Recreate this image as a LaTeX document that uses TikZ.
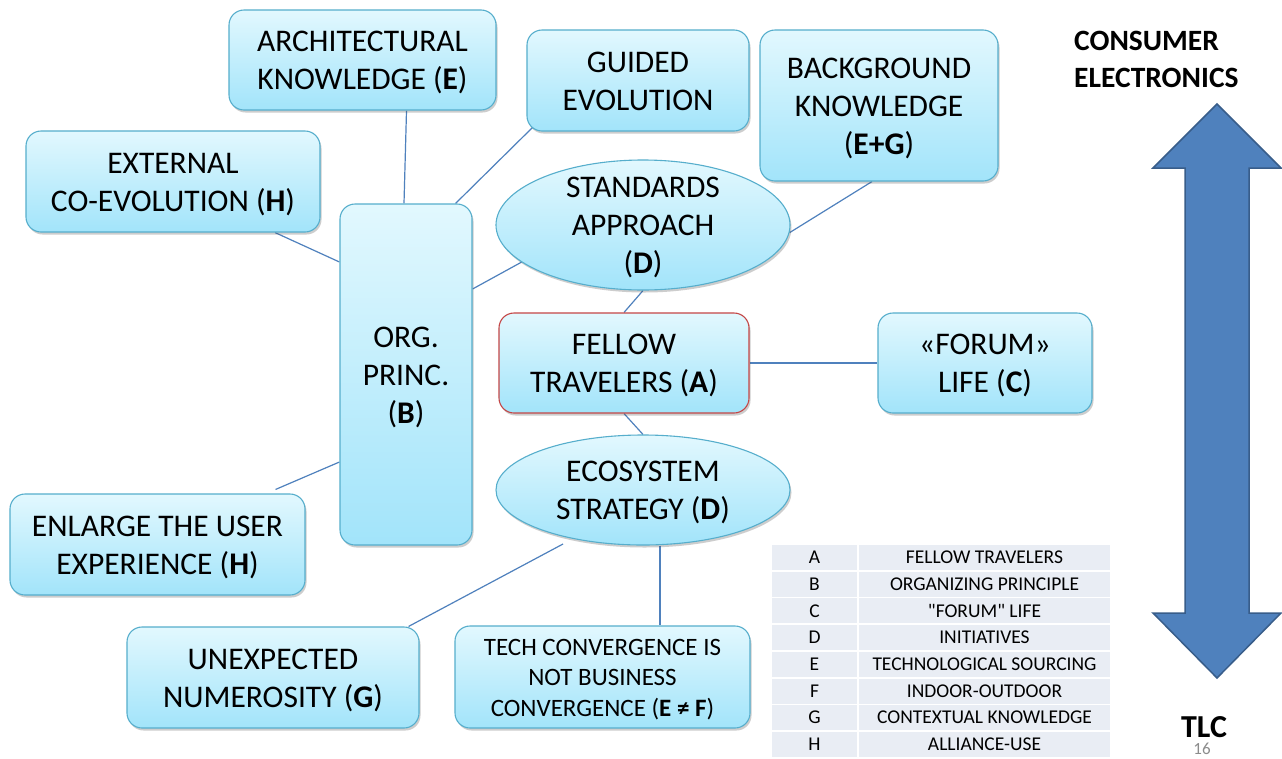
\documentclass[tikz,border=0pt]{standalone}
\usepackage{fontspec}
\setmainfont{Carlito}
\newfontfamily\rawfont{Carlito}
\usetikzlibrary{shapes.geometric,shadows,backgrounds}

\definecolor{boxtop}{RGB}{226,248,254}
\definecolor{boxbot}{RGB}{162,228,250}
\definecolor{boxline}{RGB}{86,174,204}
\definecolor{redline}{RGB}{196,70,70}
\definecolor{linkblue}{RGB}{79,129,189}
\definecolor{arrowfill}{RGB}{79,129,189}
\definecolor{arrowline}{RGB}{56,93,138}
\definecolor{cellfill}{RGB}{233,237,244}
\definecolor{pagenum}{RGB}{140,140,140}

% fixed line metrics, so every text block sits the same way in its box
\newcommand{\firstline}{\rule{0pt}{.94em}}
\newcommand{\lastline}{\rule[-.26em]{0pt}{.26em}}

\tikzset{
  bubble/.style={draw=boxline, line width=1.1pt, top color=boxtop, bottom color=boxbot,
    drop shadow={shadow xshift=1.5pt, shadow yshift=-2.5pt, opacity=.28, fill=black!70},
    align=center, inner sep=0pt, font=\fontsize{31.5}{38}\selectfont},
  card/.style={bubble, rounded corners=15pt},
  oval/.style={bubble, ellipse},
  linkline/.style={draw=linkblue, line width=1.2pt},
  cell/.style={fill=cellfill, inner sep=0pt, minimum height=25pt,
    font=\fontsize{19.5}{20}\selectfont},
}

\begin{document}
\begin{tikzpicture}[x=1pt, y=-1pt]
\useasboundingbox (0,0) rectangle (1282,758);

% concept boxes
\node[card, minimum width=267pt, minimum height=100pt] (arch) at (362.5,60)
  {\firstline ARCHITECTURAL\\KNOWLEDGE (\textbf{E})\lastline};
\node[card, minimum width=222pt, minimum height=101pt] (guided) at (638,80.5)
  {\firstline GUIDED\\EVOLUTION\lastline};
\node[card, minimum width=238pt, minimum height=151pt] (background) at (879,105.5)
  {\firstline BACKGROUND\\KNOWLEDGE\\(\textbf{E+G})\lastline};
\node[card, minimum width=294pt, minimum height=101pt] (external) at (173,181.5)
  {\firstline EXTERNAL\\CO-EVOLUTION (\textbf{H})\lastline};
\node[card, minimum width=132pt, minimum height=341pt] (org) at (406,374.5)
  {\firstline ORG.\\PRINC.\\(\textbf{B})\lastline};
\node[oval, minimum width=294pt, minimum height=130pt, inner ysep=-12pt] (standards) at (643,225)
  {\firstline STANDARDS\\APPROACH\\(\textbf{D})\lastline};
\node[card, draw=redline, minimum width=250pt, minimum height=100pt] (fellow) at (624,363)
  {\firstline FELLOW\\TRAVELERS (\textbf{A})\lastline};
\node[card, minimum width=214pt, minimum height=100pt] (forum) at (985,363)
  {\firstline «FORUM»\\LIFE (\textbf{C})\lastline};
\node[oval, minimum width=294pt, minimum height=110pt] (ecosystem) at (643,490)
  {\firstline ECOSYSTEM\\STRATEGY (\textbf{D})\lastline};
\node[card, minimum width=295pt, minimum height=101pt] (enlarge) at (157.5,544.5)
  {\firstline ENLARGE THE USER\\EXPERIENCE (\textbf{H})\lastline};
\node[card, minimum width=292pt, minimum height=101pt] (unexpected) at (273,677.5)
  {\firstline UNEXPECTED\\NUMEROSITY (\textbf{G})\lastline};
\node[card, minimum width=295pt, minimum height=102pt, font=\fontsize{25}{30.5}\selectfont] (tech) at (602.5,677)
  {\firstline TECH CONVERGENCE IS\\NOT BUSINESS\\CONVERGENCE (\textbf{E ≠ F})\lastline};

% legend table
\foreach \k/\txt [count=\i] in {A/FELLOW TRAVELERS, B/ORGANIZING PRINCIPLE,
    C/{{\rawfont"}FORUM{\rawfont"} LIFE},
    D/INITIATIVES, E/TECHNOLOGICAL SOURCING, F/INDOOR-OUTDOOR,
    G/CONTEXTUAL KNOWLEDGE, H/ALLIANCE-USE} {
  \node[cell, minimum width=85pt] (key\i) at (814.5,{545+(\i-1)*26.7+12.5}) {\k};
  \node[cell, minimum width=251pt] (val\i) at (984.5,{545+(\i-1)*26.7+12.5}) {\txt};
}

% scale arrow and its end labels
\filldraw[fill=arrowfill, draw=arrowline, line width=1.5pt, line join=miter]
  (1217,104) -- (1281,168) -- (1249,168) -- (1249,613) -- (1281,613) -- (1217,678)
  -- (1153,613) -- (1185,613) -- (1185,168) -- (1153,168) -- cycle;
\node[anchor=west, align=left, inner sep=0pt, font=\bfseries\fontsize{29.5}{37}\selectfont]
  (consumer) at (1074,59.5) {CONSUMER\\ELECTRONICS};
\node[inner sep=0pt, font=\bfseries\fontsize{32}{32}\selectfont] (tlc) at (1204,727) {TLC};
\node[inner sep=0pt, text=pagenum, font=\fontsize{17}{18}\selectfont] (page) at (1202,749) {16};

% connectors, kept beneath the boxes
\begin{scope}[on background layer]
\fill[white] (0,0) rectangle (1282,758);
\draw[linkline] ([xshift=44pt]arch.south) -- ([xshift=-2pt]org.north);
\draw[linkline] ([xshift=6pt,yshift=4pt]guided.south west) -- ([xshift=-17pt]org.north east);
\draw[linkline] ([xshift=-7pt]background.south) -- (standards.-3);
\draw[linkline] ([xshift=102pt]external.south) -- ([yshift=112.5pt]org.west);
\draw[linkline] ([yshift=85.5pt]org.east) -- (standards.197);
\draw[linkline] (standards.south) -- (fellow.north);
\draw[linkline] (fellow.east) -- (forum.west);
\draw[linkline] (fellow.south) -- (ecosystem.north);
\draw[linkline] ([xshift=-30pt,yshift=4pt]enlarge.north east) -- ([yshift=-87.5pt]org.west);
\draw[linkline] ([xshift=-80pt,yshift=-54pt]ecosystem.center) -- ([xshift=-11pt]unexpected.north east);
\draw[linkline] ([xshift=17pt]ecosystem.south) -- ([xshift=57.5pt]tech.north);
\end{scope}
\end{tikzpicture}
\end{document}
